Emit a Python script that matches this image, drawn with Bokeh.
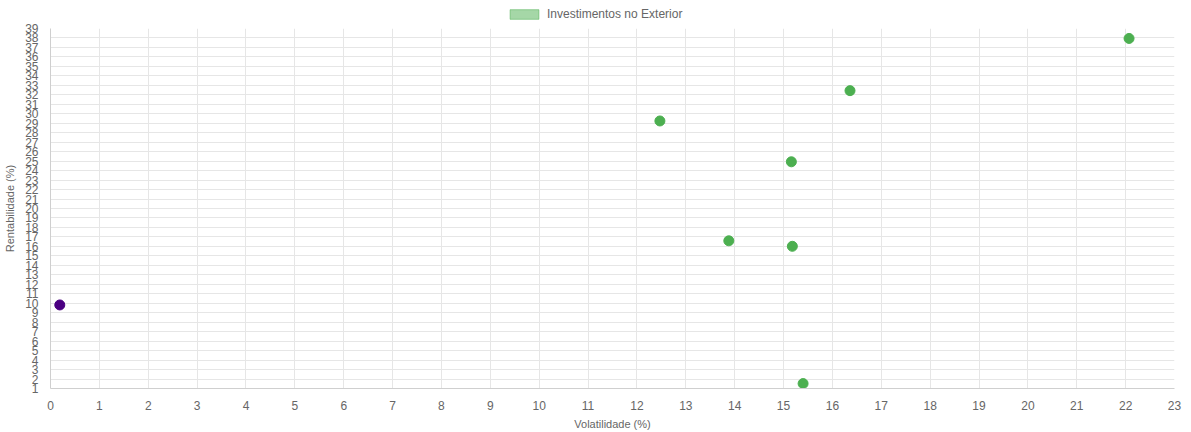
from bokeh.plotting import figure
from bokeh.layouts import column
from bokeh.models import Range1d, FixedTicker, Legend, LegendItem, ColumnDataSource
from bokeh.embed import file_html
from bokeh.resources import INLINE

# Data
series_name = "Investimentos no Exterior"
volatilidade = [12.47, 16.36, 22.07, 15.16, 13.88, 15.18, 15.40]
rentabilidade = [29.24, 32.44, 37.95, 24.93, 16.59, 16.01, 1.52]
ref_volatilidade = [0.19]
ref_rentabilidade = [9.82]
x_ticks = list(range(0, 24))
y_ticks = list(range(1, 40))

GREEN = "#4caf50"
PURPLE = "#4b0082"
FONT = "Liberation Sans"
GRID = "#e6e6e6"
TXT = "#666666"
NAN = float("nan")

# ---- legend strip on top ----
top = figure(width=1191, height=22, output_backend="svg", toolbar_location=None,
             x_range=Range1d(0, 1), y_range=Range1d(0, 1), min_border=0)
top.outline_line_color = None
top.axis.visible = False
top.grid.visible = False
proxy = top.quad(left=[NAN], right=[NAN], top=[NAN], bottom=[NAN], fill_color=GREEN,
                 fill_alpha=0.5, line_color=GREEN, line_alpha=0.5)
legend = Legend(items=[LegendItem(label=series_name, renderers=[proxy])],
                orientation="horizontal", location=(456, 1),
                glyph_width=36, glyph_height=12, label_height=12, label_standoff=5,
                padding=1, margin=0, spacing=0, border_line_color=None,
                background_fill_alpha=0,
                label_text_font=FONT, label_text_font_size="12px", label_text_color=TXT)
top.add_layout(legend)

# ---- main scatter ----
p = figure(width=1191, height=410, output_backend="svg", toolbar_location=None,
           x_range=Range1d(0, 23), y_range=Range1d(1, 39),
           min_border_left=50, min_border_right=17, min_border_top=6, min_border_bottom=42)
p.outline_line_color = None

src = ColumnDataSource(dict(x=volatilidade, y=rentabilidade))
src2 = ColumnDataSource(dict(x=ref_volatilidade, y=ref_rentabilidade))
p.scatter("x", "y", source=src, size=10, fill_color=GREEN, line_color=GREEN)
p.scatter("x", "y", source=src2, size=10, fill_color=PURPLE, line_color=PURPLE)

for ax in (p.xaxis[0], p.yaxis[0]):
    ax.major_tick_line_color = None
    ax.minor_tick_line_color = None
    ax.axis_line_color = "#cfcfcf"
    ax.major_label_text_font = FONT
    ax.major_label_text_font_size = "12px"
    ax.major_label_text_color = TXT
    ax.axis_label_text_font = FONT
    ax.axis_label_text_font_size = "11px"
    ax.axis_label_text_font_style = "normal"
    ax.axis_label_text_color = TXT

p.xaxis.ticker = FixedTicker(ticks=x_ticks)
p.yaxis.ticker = FixedTicker(ticks=y_ticks)
p.xaxis.axis_label = "Volatilidade (%)"
p.yaxis.axis_label = "Rentabilidade (%)"
p.xaxis.major_label_standoff = 6
p.xaxis.axis_label_standoff = 5
p.yaxis.major_label_standoff = 6
p.yaxis.axis_label_standoff = 6

p.xgrid.ticker = FixedTicker(ticks=x_ticks)
p.ygrid.ticker = FixedTicker(ticks=y_ticks)
p.grid.grid_line_color = GRID

layout = column(top, p, spacing=0)
open("out.html", "w").write(file_html(layout, INLINE))
